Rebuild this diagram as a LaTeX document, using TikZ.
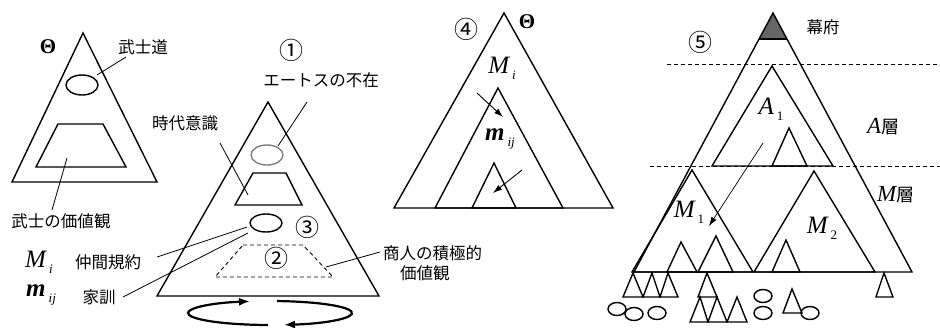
\documentclass[tikz,border=0pt]{standalone}
\usepackage{fontspec}
\setmainfont{Liberation Serif}
\newfontfamily\jp{Noto Sans CJK JP}
\usetikzlibrary{arrows.meta}
\newcommand\lblsub[3][-6pt]{#2\hspace{3pt}\raisebox{#1}{\fontsize{13}{13}\selectfont #3}}
\begin{document}
\begin{tikzpicture}[x=1pt,y=-1pt,
  fig/.style={line width=1.4pt, line join=miter},
  jtext/.style={font=\jp\fontsize{16.5}{19}\selectfont, inner sep=0pt},
  circnum/.style={font=\jp\fontsize{24}{25}\selectfont, inner sep=0pt},
  sym/.style={font=\fontsize{25}{26}\selectfont\itshape, inner sep=0pt},
  layer/.style={font=\fontsize{23}{24}\selectfont\itshape, inner sep=0pt},
  theta/.style={font=\fontsize{21}{22}\selectfont\bfseries, inner sep=0pt},
  leader/.style={line width=0.8pt},
  dashfig/.style={line width=0.9pt, dash pattern=on 4pt off 3pt},
  layerline/.style={line width=0.8pt, dash pattern=on 4pt off 3pt},
  arr/.style={line width=0.9pt, -{Latex[length=9pt,width=6pt]}},
  rotarr/.style={line width=2.2pt, -{Latex[length=11pt,width=8pt]}},
]
\useasboundingbox (0,0) rectangle (940,327);

% ---------- panel 0 : bushido ----------
\draw[fig] (83,33) -- (12,182) -- (157,182) -- cycle;
\draw[fig] (82,85) ellipse [x radius=16pt, y radius=10pt];
\draw[fig] (58,124) -- (103,124) -- (126,167) -- (36,167) -- cycle;
\node[theta] (th0) at (48,47) {Θ};
\node[jtext] (bushido) at (143,47) {武士道};
\coordinate (bushidoA) at (126,57);
\coordinate (bushidoB) at (97,75);
\draw[leader] (bushidoA) -- (bushidoB);
\node[jtext] (bushikachi) at (61,221) {武士の価値観};
\coordinate (bkA) at (52,210);
\coordinate (bkB) at (67,158);
\draw[leader] (bkA) -- (bkB);

% ---------- panel 1-3 ----------
\draw[fig] (268,102) -- (157,296) -- (379,296) -- cycle;
\draw[line width=1.4pt, gray] (267,155) ellipse [x radius=16pt, y radius=10pt];
\draw[fig] (253,173) -- (286,173) -- (302,205) -- (235,205) -- cycle;
\draw[fig] (266,223) ellipse [x radius=16pt, y radius=9pt];
\draw[dashfig] (243,245) -- (303,245) -- (333,277) -- (215,277) -- cycle;
\node[circnum] (n1) at (291,50) {①};
\node[jtext] (ethos) at (321,80) {エートスの不在};
\coordinate (ethA) at (307,102);
\coordinate (ethB) at (278,146);
\draw[leader] (ethA) -- (ethB);
\node[jtext] (jidai) at (185,123) {時代意識};
\coordinate (jdA) at (220,143);
\coordinate (jdB) at (248,195);
\draw[leader] (jdA) -- (jdB);
\node[circnum] (n3) at (307,227) {③};
\node[circnum] (n2) at (276,258) {②};
\node[jtext, anchor=west] (shonin) at (383,253) {商人の積極的};
\node[jtext, anchor=west] (shonin2) at (400,273) {価値観};
\coordinate (shA) at (380,252);
\coordinate (shB) at (326,267);
\draw[leader] (shA) -- (shB);
\node[sym, anchor=west] (Mi) at (25,262) {\lblsub{M}{i}};
\node[jtext] (nakama) at (108,262) {仲間規約};
\node[sym, anchor=west] (mij) at (26,295) {\lblsub{{\bfseries m}}{ij}};
\node[jtext] (kakun) at (99,297) {家訓};
\coordinate (MiA) at (157,257);
\coordinate (MiB) at (247,227);
\draw[leader] (MiA) -- (MiB);
\coordinate (mijA) at (123,297);
\coordinate (mijB) at (248,233);
\draw[leader] (mijA) -- (mijB);
\coordinate (rot) at (270,313);
\draw[rotarr] (rot) ++(268.6:82pt and 12pt) arc[start angle=268.6, end angle=104.1, x radius=82pt, y radius=12pt];
\draw[rotarr] (rot) ++(85.1:82pt and 12pt) arc[start angle=85.1, end angle=-80.2, x radius=82pt, y radius=12pt];

% ---------- panel 4 ----------
\draw[fig] (504,13) -- (394,208) -- (613,208) -- cycle;
\draw[fig] (498,88) -- (435,208) -- (563,208) -- cycle;
\draw[fig] (494,163) -- (472,208) -- (516,208) -- cycle;
\node[circnum] (n4) at (466,29) {④};
\node[theta] (th4) at (527,22) {Θ};
\node[sym] (Mi4) at (502,68) {\lblsub{M}{i}};
\node[sym] (mij4) at (500,139) {\lblsub{{\bfseries m}}{ij}};
\coordinate (a4s) at (477,93);
\coordinate (a4e) at (503,117);
\draw[arr] (a4s) -- (a4e);
\coordinate (b4s) at (522,170);
\coordinate (b4e) at (493,193);
\draw[arr] (b4s) -- (b4e);

% ---------- panel 5 ----------
\draw[layerline] (667,64) -- (940,64);
\draw[layerline] (650,166) -- (940,166);
\fill[black!60] (773,13) -- (759,39) -- (787,39) -- cycle;
\draw[fig] (759,39) -- (787,39);
\draw[fig] (773,13) -- (634,272) -- (912,272) -- cycle;
\node[circnum] (n5) at (700,42) {⑤};
\node[jtext] (bakufu) at (823,27) {幕府};
\draw[fig] (772,66) -- (712,166) -- (833,166) -- cycle;
\draw[fig] (789,128) -- (772,166) -- (807,166) -- cycle;
\node[sym] (A1) at (771,109) {\lblsub{A}{\upshape 1}};
\node[layer, anchor=west] (Alayer) at (867,127) {A{\jp\fontsize{18}{20}\selectfont 層}};
\node[layer, anchor=west] (Mlayer) at (877,195) {M{\jp\fontsize{18}{20}\selectfont 層}};
\draw[fig] (692,170) -- (632,272) -- (753,272) -- cycle;
\draw[fig] (814,171) -- (754,272) -- (875,272) -- cycle;
\node[sym] (M1) at (689,212) {\lblsub{M}{\upshape 1}};
\node[sym] (M2) at (822,228) {\lblsub{M}{\upshape 2}};
\coordinate (a5s) at (763,143);
\coordinate (a5e) at (709,226);
\draw[arr, line width=0.7pt] (a5s) -- (a5e);
% small triangles on base
\draw[fig] (681,242) -- (667,272) -- (697,272) -- cycle;
\draw[fig] (716,236) -- (698,272) -- (733,272) -- cycle;
\draw[fig] (786,240) -- (772,272) -- (800,272) -- cycle;
% below base
\draw[fig] (633,273) -- (623,297) -- (643,297) -- cycle;
\draw[fig] (652,273) -- (643,297) -- (660,297) -- cycle;
\draw[fig] (668,273) -- (660,297) -- (678,297) -- cycle;
\draw[fig] (707,273) -- (698,297) -- (717,297) -- cycle;
\draw[fig] (700,297) -- (690,322) -- (708,322) -- cycle;
\draw[fig] (717,297) -- (708,322) -- (727,322) -- cycle;
\draw[fig] (737,297) -- (727,322) -- (747,322) -- cycle;
\draw[fig] (792,289) -- (783,313) -- (802,313) -- cycle;
\draw[fig] (884,273) -- (876,297) -- (893,297) -- cycle;
\draw[fig] (617,309) ellipse [x radius=9pt, y radius=6.5pt];
\draw[fig] (634,314) ellipse [x radius=9pt, y radius=6.5pt];
\draw[fig] (657,313) ellipse [x radius=9pt, y radius=6.5pt];
\draw[fig] (763,296) ellipse [x radius=9pt, y radius=6.5pt];
\draw[fig] (763,313) ellipse [x radius=9pt, y radius=6.5pt];
\draw[fig] (810,313) ellipse [x radius=9pt, y radius=6.5pt];
\end{tikzpicture}
\end{document}
